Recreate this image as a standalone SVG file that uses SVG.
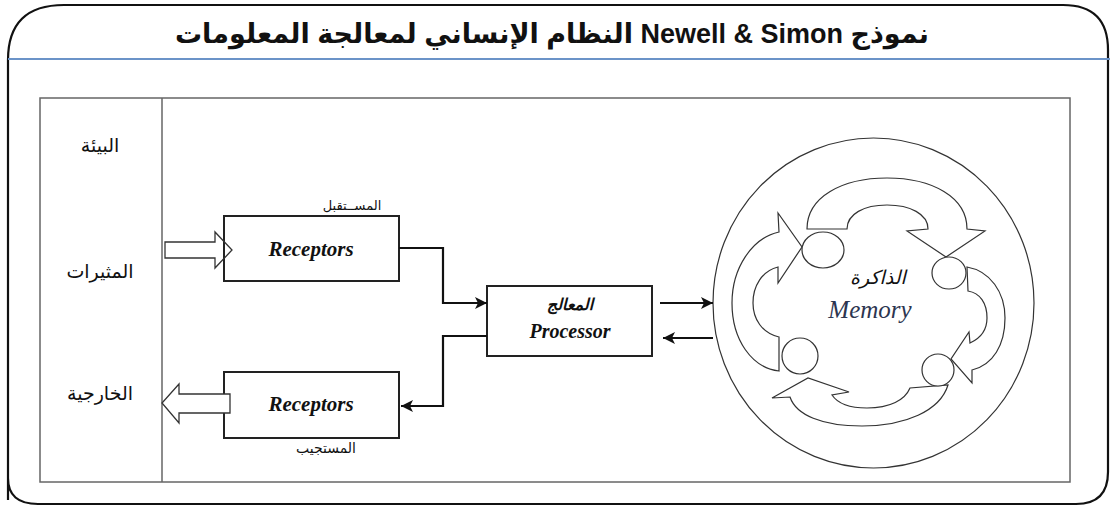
<svg xmlns="http://www.w3.org/2000/svg" width="1110" height="508" viewBox="0 0 1110 508">
<defs>
<marker id="ah" markerUnits="userSpaceOnUse" markerWidth="14" markerHeight="12" refX="12" refY="6" orient="auto">
<path d="M0,0 L12,6 L0,12 L3,6 Z" fill="#111"/>
</marker>
<style>
.frame{fill:none;stroke:#111;stroke-width:2.2}
.panel{fill:none;stroke:#666;stroke-width:1.5}
.box{fill:#fff;stroke:#222;stroke-width:2}
.conn{fill:none;stroke:#111;stroke-width:2.2}
.hollow{stroke:#333;stroke-width:1.3}
.mem{fill:#fff;stroke:#333;stroke-width:1.2}
.ar{font-family:"DejaVu Sans",sans-serif;fill:#111;text-anchor:middle}
.lat{font-family:"Liberation Serif","DejaVu Serif",serif;font-weight:bold;font-style:italic;fill:#111;text-anchor:middle}
</style>
</defs>
<g id="frame">
<path class="frame" d="M8,500 L8,60 Q8,5 64,5 L1063,5 Q1108,5 1108,50 L1108,472 Q1108,504 1076,504 L38,504 Q8,504 8,478"/>
<line x1="8" y1="59" x2="1110" y2="59" stroke="#6b93c8" stroke-width="2"/>
<text x="552" y="43" direction="rtl" style="font-family:'Liberation Sans','DejaVu Sans',sans-serif;font-weight:bold;font-size:27px;fill:#111;text-anchor:middle">نموذج Newell &amp; Simon النظام الإنساني لمعالجة المعلومات</text>
</g>
<g id="panel">
<rect class="panel" x="40" y="98" width="1030" height="384"/>
<line class="panel" x1="162" y1="98" x2="162" y2="482"/>
</g>
<g id="environment">
<text class="ar" x="100" y="152" font-size="19">البيئة</text>
<text class="ar" x="100" y="278" font-size="19">المثيرات</text>
<text class="ar" x="100" y="400" font-size="19">الخارجية</text>
</g>
<g id="receptors-in">
<rect class="box" x="224" y="216" width="175" height="65"/>
<path class="hollow" fill="none" d="M165,242 L215,242 L215,232 L232,250 L215,268 L215,258 L165,258 Z"/>
<text class="lat" x="311" y="256" font-size="21">Receptors</text>
<text class="ar" x="352" y="210" font-size="13">المســتقبل</text>
</g>
<g id="receptors-out">
<rect class="box" x="224" y="372" width="175" height="66"/>
<path class="hollow" fill="#fff" d="M230,394 L179,394 L179,384 L162,403 L179,423 L179,413 L230,413 Z"/>
<text class="lat" x="311" y="411" font-size="21">Receptors</text>
<text class="ar" x="326" y="453" font-size="14">المستجيب</text>
</g>
<g id="processor">
<rect class="box" x="487" y="286" width="165" height="70"/>
<text class="ar" x="570" y="310" font-size="16" font-weight="bold" font-style="italic">المعالج</text>
<text class="lat" x="570" y="338" font-size="20" fill="#1a1f33">Processor</text>
</g>
<g id="memory">
<ellipse class="mem" cx="873.5" cy="303" rx="160.5" ry="165"/>
<path class="mem" d="M807,229 C807,197 842,178 887,178 C932,178 967,197 967,229 L985,231 L946,257 L907,231 L928,229 C928,214 910,205 887,205 C864,205 847,214 847,229 Z"/>
<path class="mem" d="M967,267 C990,271 1005,292 1005,318 C1005,345 993,365 972,370 L972,383 L951,359 L969,332 L970,343 C981,338 987,330 987,318 C987,303 980,293 968,291 Z"/>
<path class="mem" d="M948,385 C940,411 905,426 862,426 C822,426 796,415 790,397 L772,398 L808,378 L849,392 L832,395 C838,404 852,408 867,408 C890,408 905,400 910,388 Z"/>
<path class="mem" d="M779,371 C752,368 732,340 732,303 C732,268 752,238 779,232 L778,213 L802,247 L778,283 L778,267 C762,271 753,286 753,303 C753,319 762,333 779,337 Z"/>
<ellipse class="mem" cx="823" cy="250" rx="21" ry="18"/>
<ellipse class="mem" cx="949" cy="273" rx="17" ry="16"/>
<circle class="mem" cx="938" cy="370" r="16"/>
<circle class="mem" cx="800" cy="356" r="18"/>
<text class="ar" x="878" y="284" font-size="19" font-style="italic" fill="#222">الذاكرة</text>
<text x="870" y="318" style="font-family:'Liberation Serif',serif;font-style:italic;font-size:25px;fill:#2c3550;text-anchor:middle">Memory</text>
</g>
<g id="connectors">
<path class="conn" marker-end="url(#ah)" d="M399,248 H443 V303 H487"/>
<path class="conn" marker-end="url(#ah)" d="M487,336 H443 V406 H401"/>
<path class="conn" marker-end="url(#ah)" d="M660,303 H713"/>
<path class="conn" marker-end="url(#ah)" d="M713,338 H663"/>
</g>
</svg>
